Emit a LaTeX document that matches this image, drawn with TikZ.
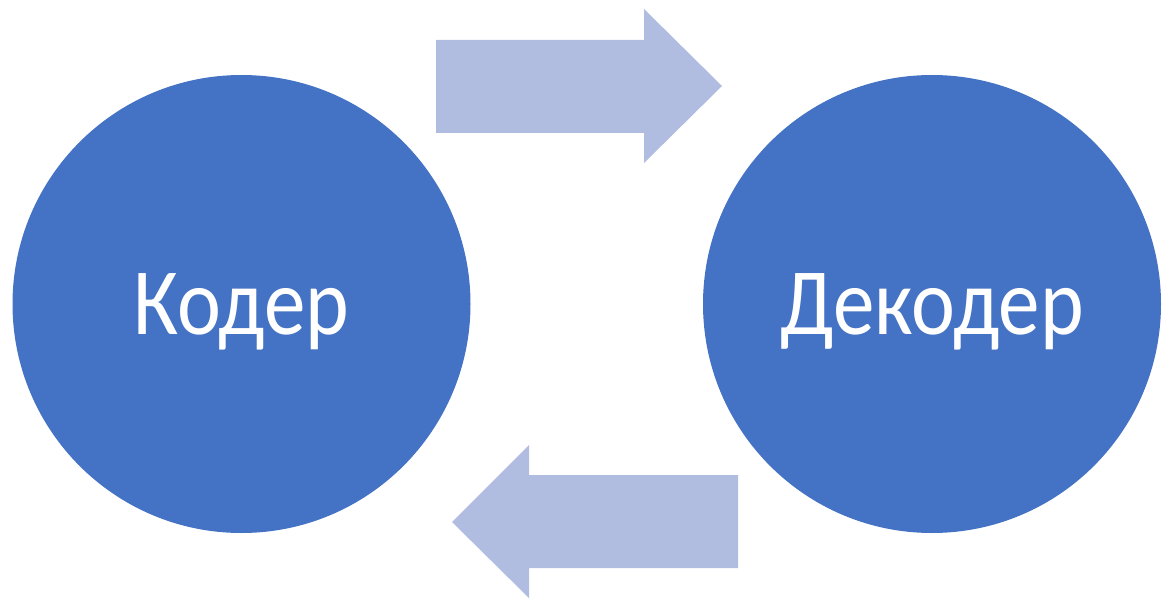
\documentclass[tikz,border=0pt]{standalone}
\usepackage{fontspec}
\setmainfont{Carlito}
\newfontfamily\lblfont[FakeStretch=0.875]{Carlito}
\definecolor{circblue}{HTML}{4472C4}
\definecolor{arrowblue}{HTML}{B0BCE0}

\begin{document}
\begin{tikzpicture}[x=1pt, y=-1pt,
  circ/.style={circle, fill=circblue, minimum size=458pt, inner sep=0pt},
  lbl/.style={text=white, font=\lblfont\fontsize{95}{100}\selectfont, anchor=base, inner sep=0pt}]
\useasboundingbox (0,0) rectangle (1170,599);
\node[circ] (coder) at (241.5,304) {};
\node[circ] (decoder) at (932,304) {};
\node[lbl] (codertext) at ([yshift=-30pt]coder.center) {Кодер};
\node[lbl] (decodertext) at ([yshift=-30pt]decoder.center) {Декодер};
\fill[arrowblue] (436,40)--(644,40)--(644,9)--(722,86)--(644,163)--(644,133)--(436,133)--cycle;
\fill[arrowblue] (738,475)--(529,475)--(529,445)--(452,522)--(529,598)--(529,568)--(738,568)--cycle;
\end{tikzpicture}
\end{document}
